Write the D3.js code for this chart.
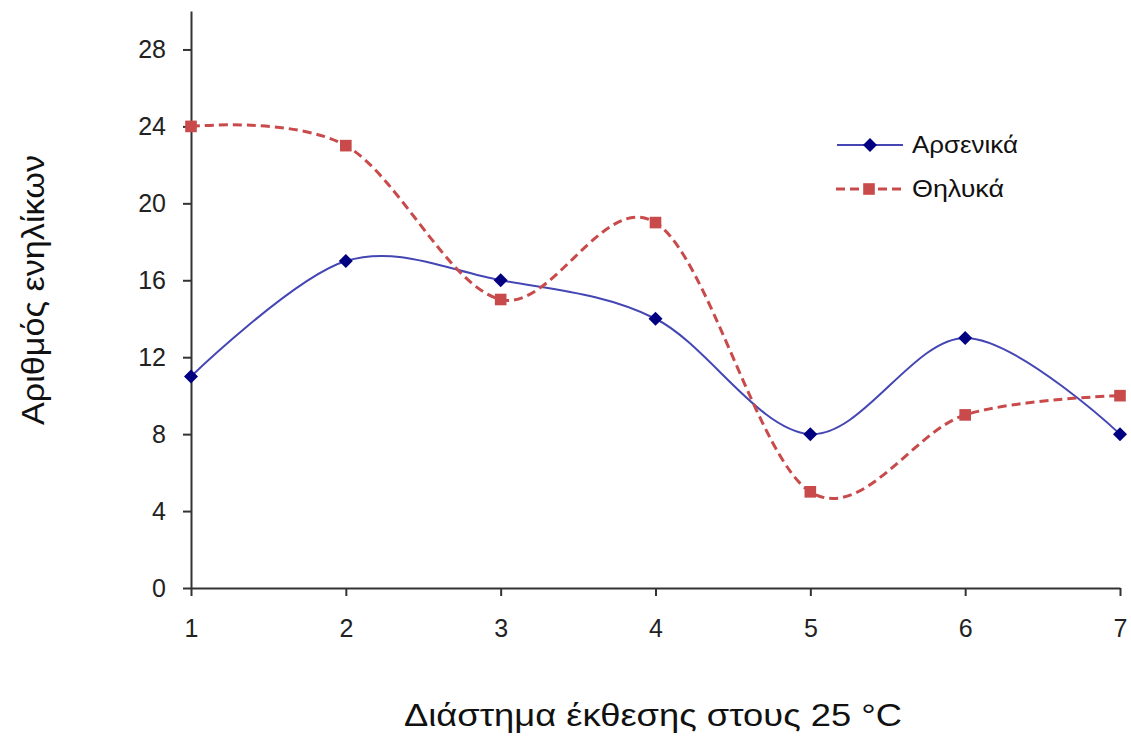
<!DOCTYPE html>
<html><head><meta charset="utf-8">
<script src="https://cdn.jsdelivr.net/npm/d3@7"></script>
<style>body{margin:0;background:#fff}svg{display:block}</style>
</head><body>
<script>
const categories = [1, 2, 3, 4, 5, 6, 7];
const males = [11, 17, 16, 14, 8, 13, 8];
const females = [24, 23, 15, 19, 5, 9, 10];
const yTicks = [0, 4, 8, 12, 16, 20, 24, 28];
const seriesNames = ["Αρσενικά", "Θηλυκά"];
const xTitle = "Διάστημα έκθεσης στους 25 °C";
const yTitle = "Αριθμός ενηλίκων";

const W = 1131, H = 738;
const svg = d3.select("body").append("svg").attr("width", W).attr("height", H);
const font = "'Liberation Sans', Arial, sans-serif";

const x = d3.scaleLinear().domain([1, 7]).range([191, 1120]);
const y = d3.scaleLinear().domain([0, 30]).range([588, 11]);

const axisColor = "#333";
const yAx = svg.append("g").attr("transform", `translate(${x(1)},0)`)
  .call(d3.axisLeft(y).tickValues(yTicks).tickSize(8).tickSizeOuter(0).tickPadding(17));
const xAx = svg.append("g").attr("transform", `translate(0,${y(0)})`)
  .call(d3.axisBottom(x).tickValues(categories).tickSize(8).tickSizeOuter(0).tickPadding(23).tickFormat(d3.format("d")));
[yAx, xAx].forEach(g => {
  g.attr("font-size", null).attr("font-family", null);
  g.select(".domain").attr("stroke", axisColor).attr("stroke-width", 2);
  g.selectAll(".tick line").attr("stroke", axisColor).attr("stroke-width", 2);
  g.selectAll(".tick text").attr("fill", "#222").style("font-family", font).style("font-size", "25px");
});

const line = d3.line().x((d, i) => x(categories[i])).y(d => y(d)).curve(d3.curveCardinal.tension(0));

const blue = "#4446b4", navy = "#000080", red = "#c94a4a";

svg.append("path").datum(males).attr("d", line).attr("fill", "none")
  .attr("stroke", blue).attr("stroke-width", 2);
svg.append("path").datum(females).attr("d", line).attr("fill", "none")
  .attr("stroke", red).attr("stroke-width", 3).attr("stroke-dasharray", "9,5");

// square-ish diamond symbol (equal width and height)
const wideDiamond = {
  draw(ctx, size) {
    const r = Math.sqrt(size / 2);
    ctx.moveTo(0, -r); ctx.lineTo(r, 0); ctx.lineTo(0, r); ctx.lineTo(-r, 0); ctx.closePath();
  }
};
const diamond = d3.symbol().type(wideDiamond).size(98);
const square = d3.symbol().type(d3.symbolSquare).size(135);

svg.append("g").selectAll("path").data(males).join("path")
  .attr("d", diamond)
  .attr("transform", (d, i) => `translate(${x(categories[i])},${y(d)})`)
  .attr("fill", navy);
svg.append("g").selectAll("path").data(females).join("path")
  .attr("d", square)
  .attr("transform", (d, i) => `translate(${x(categories[i])},${y(d)})`)
  .attr("fill", red);

// legend
const lg = svg.append("g");
lg.append("line").attr("x1", 837).attr("x2", 903).attr("y1", 145).attr("y2", 145).attr("stroke", blue).attr("stroke-width", 2);
lg.append("path").attr("d", diamond).attr("transform", "translate(870,145)").attr("fill", navy);
lg.append("line").attr("x1", 836).attr("x2", 905).attr("y1", 189).attr("y2", 189).attr("stroke", red).attr("stroke-width", 3).attr("stroke-dasharray", "9,5");
lg.append("path").attr("d", square).attr("transform", "translate(869,189)").attr("fill", red);
lg.selectAll("text").data(seriesNames).join("text")
  .attr("x", 912).attr("y", (d, i) => 153 + i * 44)
  .attr("textLength", (d, i) => i === 0 ? 106 : 92).attr("lengthAdjust", "spacingAndGlyphs")
  .style("font-family", font).style("font-size", "23px").attr("fill", "#111").text(d => d);

// titles
svg.append("text").attr("x", 404).attr("y", 726)
  .attr("textLength", 498).attr("lengthAdjust", "spacingAndGlyphs")
  .style("font-family", font).style("font-size", "32px").attr("fill", "#111").text(xTitle);
svg.append("text").attr("transform", "translate(44,425) rotate(-90)")
  .attr("textLength", 270).attr("lengthAdjust", "spacingAndGlyphs")
  .style("font-family", font).style("font-size", "32px").attr("fill", "#111").text(yTitle);
</script>
</body></html>
